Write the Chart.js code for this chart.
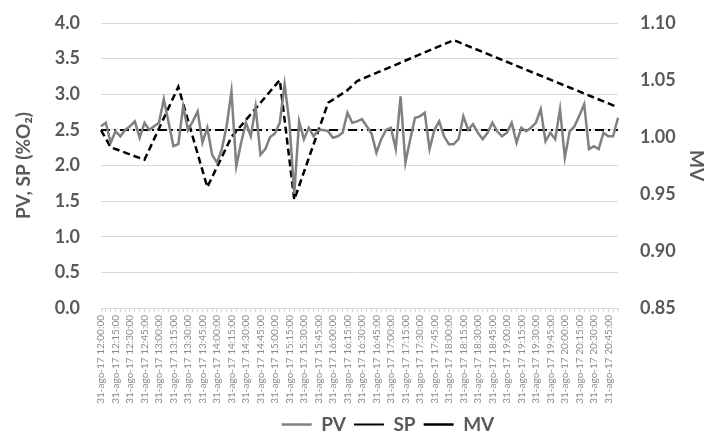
<!DOCTYPE html>
<html lang="es">
  <head>
    <meta charset="UTF-8" />
    <title>PV, SP, MV</title>
    <script src="https://cdn.jsdelivr.net/npm/chart.js"></script>
    <style>
      html, body { margin: 0; padding: 0; background: #fff; }
      #wrap { width: 712px; height: 446px; }
    </style>
  </head>
  <body>
    <div id="wrap"><canvas id="myChart"></canvas></div>

    <script>
      // horas: cada 5 min desde 12:00 hasta 20:55, etiqueta cada 15 min
      const startHour = 12;
      const stepMin = 5;
      const nPoints = 108;

      // PV (%O2)
      const pvValues = [
        2.55, 2.6, 2.32, 2.48, 2.41, 2.5, 2.55, 2.62, 2.39, 2.6,
        2.5, 2.55, 2.6, 2.93, 2.6, 2.27, 2.3, 2.83, 2.5, 2.62,
        2.76, 2.32, 2.53, 2.15, 2.04, 2.23, 2.55, 3.04, 1.99, 2.32,
        2.6, 2.41, 2.82, 2.15, 2.23, 2.4, 2.45, 2.6, 3.14, 2.6,
        1.6, 2.62, 2.37, 2.53, 2.41, 2.5, 2.5, 2.48, 2.39, 2.41,
        2.46, 2.74, 2.6, 2.62, 2.65, 2.55, 2.45, 2.18, 2.37, 2.5,
        2.53, 2.23, 2.97, 2.04, 2.37, 2.67, 2.69, 2.74, 2.23, 2.5,
        2.62, 2.41, 2.3, 2.3, 2.37, 2.69, 2.5, 2.58, 2.46, 2.37,
        2.46, 2.6, 2.48, 2.41, 2.46, 2.6, 2.32, 2.53, 2.48, 2.53,
        2.6, 2.79, 2.34, 2.46, 2.37, 2.79, 2.11, 2.48, 2.55, 2.7,
        2.86, 2.23, 2.27, 2.23, 2.46, 2.41, 2.41, 2.67
      ];

      // SP constante
      const spSetpoint = 2.5;

      // MV: solo algunos puntos (indice de la hora, valor)
      const mvIndex = [0, 2, 9, 16, 22, 27, 37, 40, 47, 51, 53, 73, 107];
      const mvValues = [1.006, 0.991, 0.98, 1.044, 0.956, 1.0, 1.05, 0.945, 1.03, 1.041, 1.049, 1.085, 1.026];

      const leftTicks = { min: 0, max: 4, step: 0.5 };
      const rightTicks = { min: 0.85, max: 1.1, step: 0.05 };

      const labels = [];
      for (let i = 0; i < nPoints; i++) {
        const m = startHour * 60 + i * stepMin;
        const hh = String(Math.floor(m / 60)).padStart(2, "0");
        const mm = String(m % 60).padStart(2, "0");
        labels.push("31-ago-17 " + hh + ":" + mm + ":00");
      }

      const mvData = labels.map(() => null);
      mvIndex.forEach((idx, k) => (mvData[idx] = mvValues[k]));

      const gridColor = "#d9d9d9";
      const textColor = "#595959";
      const fontFam = "Lato, 'Liberation Sans', sans-serif";

      // mover la leyenda un poco a la derecha como en el original
      const legendShift = {
        id: "legendShift",
        afterLayout(chart) {
          chart.legend.left += 32;
          chart.legend.right += 32;
        },
      };

      new Chart(document.getElementById("myChart"), {
        type: "line",
        data: {
          labels: labels,
          datasets: [
            {
              label: "PV",
              data: pvValues,
              borderColor: "#808080",
              backgroundColor: "#808080",
              borderWidth: 2.5,
              pointRadius: 0,
              tension: 0,
              yAxisID: "y",
            },
            {
              label: "SP",
              data: labels.map(() => spSetpoint),
              borderColor: "#000",
              backgroundColor: "#000",
              borderWidth: 2,
              borderDash: [9, 4, 2, 4],
              pointRadius: 0,
              yAxisID: "y",
            },
            {
              label: "MV",
              data: mvData,
              borderColor: "#000",
              backgroundColor: "#000",
              borderWidth: 2.5,
              borderDash: [7, 4],
              pointRadius: 0,
              spanGaps: true,
              yAxisID: "y1",
            },
          ],
        },
        options: {
          responsive: true,
          maintainAspectRatio: false,
          animation: false,
          layout: { padding: { top: 23, right: 0, bottom: 2, left: 0 } },
          plugins: {
            tooltip: { enabled: false },
            legend: {
              position: "bottom",
              labels: {
                usePointStyle: true,
                pointStyle: "line",
                pointStyleWidth: 30,
                boxHeight: 10,
                padding: 8,
                color: textColor,
                font: { family: fontFam, size: 19, weight: "bold" },
              },
            },
          },
          scales: {
            x: {
              offset: false,
              grid: {
                drawOnChartArea: false,
                drawTicks: true,
                tickLength: 4,
                color: gridColor,
              },
              border: { color: gridColor },
              ticks: {
                autoSkip: false,
                minRotation: 90,
                maxRotation: 90,
                padding: 3,
                color: "#8c8c8c",
                font: { family: fontFam, size: 10 },
                callback: (v, i) => (i % 3 === 0 ? labels[i] : ""),
              },
              afterFit: (s) => (s.height = 99),
            },
            y: {
              position: "left",
              min: leftTicks.min,
              max: leftTicks.max,
              // marcas invisibles para separar las etiquetas del eje
              grid: { color: gridColor, drawTicks: true, tickLength: 18, tickColor: "rgba(0,0,0,0)" },
              border: { display: false },
              ticks: {
                stepSize: leftTicks.step,
                padding: 3,
                color: textColor,
                font: { family: fontFam, size: 18, weight: "bold" },
                callback: (v) => Number(v).toFixed(1),
              },
              title: {
                display: true,
                text: "PV, SP (%O₂)",
                color: textColor,
                padding: { top: 12, bottom: 0 },
                font: { family: fontFam, size: 19, weight: "bold" },
              },
              afterFit: (s) => (s.width = 101),
            },
            y1: {
              position: "right",
              min: rightTicks.min,
              max: rightTicks.max,
              grid: { drawOnChartArea: false, drawTicks: true, tickLength: 19, tickColor: "rgba(0,0,0,0)" },
              border: { display: false },
              ticks: {
                stepSize: rightTicks.step,
                padding: 3,
                color: textColor,
                font: { family: fontFam, size: 18, weight: "bold" },
                callback: (v) => Number(v).toFixed(2),
              },
              title: {
                display: true,
                text: "MV",
                color: textColor,
                padding: { top: 4, bottom: 0 },
                font: { family: fontFam, size: 19, weight: "bold" },
              },
              afterFit: (s) => (s.width = 94),
            },
          },
        },
        plugins: [legendShift],
      });
    </script>
  </body>
</html>
